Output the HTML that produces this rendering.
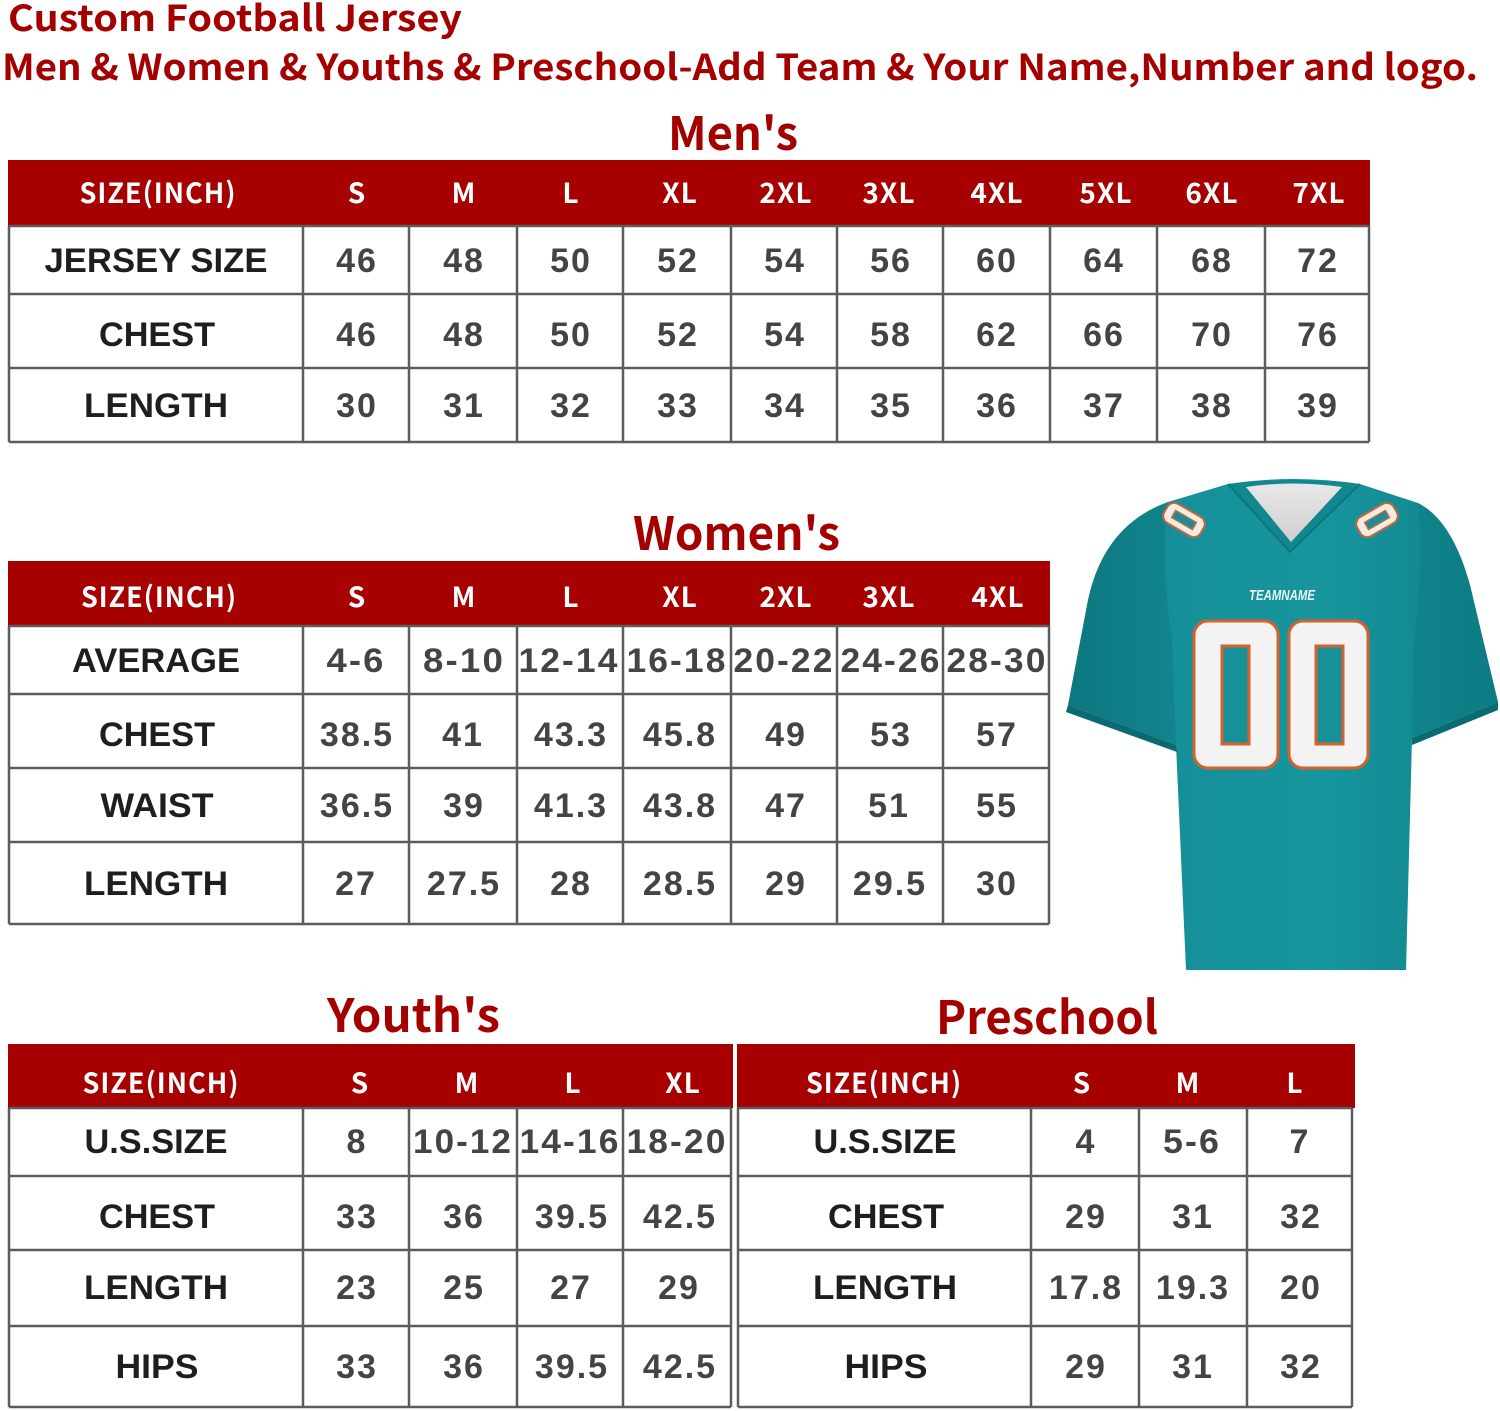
<!DOCTYPE html>
<html><head><meta charset="utf-8">
<style>
html,body{margin:0;padding:0;background:#fff;}
svg{display:block;}
.t{font-family:"Noto Sans CJK SC","Liberation Sans",sans-serif;font-weight:700;fill:#a40000;}
.h{font-family:"Noto Sans CJK SC","Liberation Sans",sans-serif;font-weight:700;fill:#fff;font-size:28px;text-anchor:middle;letter-spacing:1px;}
.lab{font-family:"Liberation Sans",sans-serif;font-weight:700;fill:#1e1e1e;font-size:34px;text-anchor:middle;}
.n{font-family:"Liberation Sans",sans-serif;font-weight:700;fill:#444;font-size:34px;text-anchor:middle;letter-spacing:2px;}
.g{stroke:#5c5c5c;stroke-width:2.5;fill:none;}
</style></head>
<body>
<svg width="1500" height="1411" viewBox="0 0 1500 1411" xmlns="http://www.w3.org/2000/svg">
<defs>
<linearGradient id="teal" x1="0" y1="0" x2="1" y2="0">
<stop offset="0" stop-color="#0d7c84"/>
<stop offset="0.25" stop-color="#15909a"/>
<stop offset="0.6" stop-color="#17959d"/>
<stop offset="1" stop-color="#0f8189"/>
</linearGradient>
<linearGradient id="neck" x1="0" y1="0" x2="0" y2="1">
<stop offset="0" stop-color="#e8e8e8"/>
<stop offset="1" stop-color="#cfcfcf"/>
</linearGradient>
</defs>
<rect width="1500" height="1411" fill="#fff"/>

<!-- Top titles -->
<text class="t" x="8" y="31" font-size="36" textLength="454" lengthAdjust="spacingAndGlyphs">Custom  Football Jersey</text>
<text class="t" x="2" y="80" font-size="36" textLength="1476" lengthAdjust="spacingAndGlyphs">Men &amp; Women &amp; Youths &amp; Preschool-Add Team &amp; Your Name,Number and logo.</text>

<!-- MEN'S -->
<text class="t" x="668" y="150" font-size="46" textLength="130" lengthAdjust="spacingAndGlyphs">Men's</text>
<rect x="8" y="160" width="1362" height="66" fill="#a60000"/>
<text class="h" x="158" y="203" textLength="157" lengthAdjust="spacingAndGlyphs">SIZE(INCH)</text>
<text class="h" x="357" y="203">S</text>
<text class="h" x="464" y="203">M</text>
<text class="h" x="571" y="203">L</text>
<text class="h" x="680" y="203">XL</text>
<text class="h" x="786" y="203">2XL</text>
<text class="h" x="889" y="203">3XL</text>
<text class="h" x="997" y="203">4XL</text>
<text class="h" x="1106" y="203">5XL</text>
<text class="h" x="1212" y="203">6XL</text>
<text class="h" x="1319" y="203">7XL</text>
<path class="g" d="M9,226H1369M9,294H1369M9,368H1369M9,442H1369M9,226V442M303,226V442M409,226V442M517,226V442M623,226V442M731,226V442M837,226V442M943,226V442M1050,226V442M1157,226V442M1265,226V442M1369,226V442"/>
<text class="lab" x="156" y="272" textLength="223" lengthAdjust="spacingAndGlyphs">JERSEY SIZE</text>
<text class="lab" x="157" y="346" textLength="116" lengthAdjust="spacingAndGlyphs">CHEST</text>
<text class="lab" x="156" y="417" textLength="144" lengthAdjust="spacingAndGlyphs">LENGTH</text>
<g class="n">
<text x="357" y="272">46</text><text x="464" y="272">48</text><text x="571" y="272">50</text><text x="678" y="272">52</text><text x="785" y="272">54</text><text x="891" y="272">56</text><text x="997" y="272">60</text><text x="1104" y="272">64</text><text x="1212" y="272">68</text><text x="1318" y="272">72</text>
<text x="357" y="346">46</text><text x="464" y="346">48</text><text x="571" y="346">50</text><text x="678" y="346">52</text><text x="785" y="346">54</text><text x="891" y="346">58</text><text x="997" y="346">62</text><text x="1104" y="346">66</text><text x="1212" y="346">70</text><text x="1318" y="346">76</text>
<text x="357" y="417">30</text><text x="464" y="417">31</text><text x="571" y="417">32</text><text x="678" y="417">33</text><text x="785" y="417">34</text><text x="891" y="417">35</text><text x="997" y="417">36</text><text x="1104" y="417">37</text><text x="1212" y="417">38</text><text x="1318" y="417">39</text>
</g>

<!-- WOMEN'S -->
<text class="t" x="633" y="550" font-size="46" textLength="207" lengthAdjust="spacingAndGlyphs">Women's</text>
<rect x="8" y="561" width="1042" height="65" fill="#a60000"/>
<text class="h" x="159" y="607" textLength="156" lengthAdjust="spacingAndGlyphs">SIZE(INCH)</text>
<text class="h" x="357" y="607">S</text>
<text class="h" x="464" y="607">M</text>
<text class="h" x="571" y="607">L</text>
<text class="h" x="680" y="607">XL</text>
<text class="h" x="786" y="607">2XL</text>
<text class="h" x="889" y="607">3XL</text>
<text class="h" x="998" y="607">4XL</text>
<path class="g" d="M9,626H1049M9,694H1049M9,768H1049M9,842H1049M9,924H1049M9,626V924M303,626V924M409,626V924M517,626V924M623,626V924M731,626V924M837,626V924M943,626V924M1049,626V924"/>
<text class="lab" x="156" y="672" textLength="168" lengthAdjust="spacingAndGlyphs">AVERAGE</text>
<text class="lab" x="157" y="746" textLength="116" lengthAdjust="spacingAndGlyphs">CHEST</text>
<text class="lab" x="157" y="817" textLength="113" lengthAdjust="spacingAndGlyphs">WAIST</text>
<text class="lab" x="156" y="895" textLength="144" lengthAdjust="spacingAndGlyphs">LENGTH</text>
<g class="n">
<text x="356" y="672" textLength="59" lengthAdjust="spacingAndGlyphs">4-6</text>
<text x="464" y="672" textLength="82" lengthAdjust="spacingAndGlyphs">8-10</text>
<text x="569" y="672" textLength="101" lengthAdjust="spacingAndGlyphs">12-14</text>
<text x="677" y="672" textLength="101" lengthAdjust="spacingAndGlyphs">16-18</text>
<text x="784" y="672" textLength="101" lengthAdjust="spacingAndGlyphs">20-22</text>
<text x="891" y="672" textLength="101" lengthAdjust="spacingAndGlyphs">24-26</text>
<text x="997" y="672" textLength="101" lengthAdjust="spacingAndGlyphs">28-30</text>
<text x="357" y="746">38.5</text><text x="463" y="746">41</text><text x="571" y="746">43.3</text><text x="680" y="746">45.8</text><text x="786" y="746">49</text><text x="891" y="746">53</text><text x="997" y="746">57</text>
<text x="357" y="817">36.5</text><text x="464" y="817">39</text><text x="571" y="817">41.3</text><text x="680" y="817">43.8</text><text x="786" y="817">47</text><text x="889" y="817">51</text><text x="997" y="817">55</text>
<text x="356" y="895">27</text><text x="464" y="895">27.5</text><text x="571" y="895">28</text><text x="680" y="895">28.5</text><text x="786" y="895">29</text><text x="890" y="895">29.5</text><text x="997" y="895">30</text>
</g>

<!-- JERSEY -->
<g>
<path d="M1228,484 Q1294,474 1360,484 L1418,503 Q1452,520 1470,585 L1498,702 L1412,738 L1406,970 L1186,970 L1176,745 L1068,705 L1088,600 Q1104,525 1168,502 Z" fill="url(#teal)"/>
<path d="M1168,502 Q1104,525 1088,600 L1068,705 L1176,745 L1172,640 Q1160,560 1168,502 Z" fill="#0b6f77" opacity="0.35"/>
<path d="M1418,503 Q1452,520 1470,585 L1498,702 L1412,738 L1414,640 Q1424,560 1418,503 Z" fill="#0b6f77" opacity="0.3"/>
<path d="M1068,705 L1176,745 L1177,752 L1066,712 Z" fill="#0a6a71"/>
<path d="M1498,702 L1412,738 L1412,745 L1498,710 Z" fill="#0a6a71"/>
<path d="M1228,484 L1290,552 L1360,484 Q1294,476 1228,484 Z" fill="#12878f"/>
<path d="M1246,487 Q1292,480 1342,487 L1291,542 Z" fill="url(#neck)"/>
<path d="M1228,484 L1290,552 L1360,484" stroke="#0c767d" stroke-width="2" fill="none"/>
<g transform="translate(1184,520) rotate(30)">
<rect x="-21" y="-11" width="42" height="22" rx="8" fill="#f4ece2" stroke="#c6653c" stroke-width="2"/>
<rect x="-12" y="-4" width="24" height="8" fill="#15909a" stroke="#c6653c" stroke-width="1.5"/>
</g>
<g transform="translate(1377,520) rotate(-30)">
<rect x="-21" y="-11" width="42" height="22" rx="8" fill="#f4ece2" stroke="#c6653c" stroke-width="2"/>
<rect x="-12" y="-4" width="24" height="8" fill="#15909a" stroke="#c6653c" stroke-width="1.5"/>
</g>
<text x="1282" y="600" font-family="Liberation Sans, sans-serif" font-weight="700" font-style="italic" font-size="15" fill="#e9f6f6" text-anchor="middle" textLength="66" lengthAdjust="spacingAndGlyphs">TEAMNAME</text>
<rect x="1194" y="621" width="84" height="147" rx="14" fill="#f3f3f3" stroke="#d5622b" stroke-width="3"/>
<rect x="1222" y="646" width="27" height="98" fill="#16919a" stroke="#d5622b" stroke-width="3"/>
<rect x="1289" y="621" width="79" height="147" rx="14" fill="#f3f3f3" stroke="#d5622b" stroke-width="3"/>
<rect x="1316" y="646" width="27" height="98" fill="#16919a" stroke="#d5622b" stroke-width="3"/>
</g>

<!-- YOUTH'S -->
<text class="t" x="327" y="1032" font-size="46" textLength="173" lengthAdjust="spacingAndGlyphs">Youth's</text>
<rect x="8" y="1044" width="725" height="64" fill="#a60000"/>
<text class="h" x="161" y="1093" textLength="157" lengthAdjust="spacingAndGlyphs">SIZE(INCH)</text>
<text class="h" x="360" y="1093">S</text>
<text class="h" x="467" y="1093">M</text>
<text class="h" x="573" y="1093">L</text>
<text class="h" x="683" y="1093">XL</text>
<path class="g" d="M9,1108H731M9,1176H731M9,1250H731M9,1326H731M9,1407H731M9,1108V1407M303,1108V1407M409,1108V1407M517,1108V1407M623,1108V1407M731,1108V1407"/>
<text class="lab" x="156" y="1153" textLength="143" lengthAdjust="spacingAndGlyphs">U.S.SIZE</text>
<text class="lab" x="157" y="1228" textLength="116" lengthAdjust="spacingAndGlyphs">CHEST</text>
<text class="lab" x="156" y="1299" textLength="144" lengthAdjust="spacingAndGlyphs">LENGTH</text>
<text class="lab" x="157" y="1378" textLength="83" lengthAdjust="spacingAndGlyphs">HIPS</text>
<g class="n">
<text x="357" y="1153">8</text>
<text x="463" y="1153" textLength="100" lengthAdjust="spacingAndGlyphs">10-12</text>
<text x="570" y="1153" textLength="101" lengthAdjust="spacingAndGlyphs">14-16</text>
<text x="677" y="1153" textLength="101" lengthAdjust="spacingAndGlyphs">18-20</text>
<text x="357" y="1228">33</text><text x="464" y="1228">36</text><text x="572" y="1228">39.5</text><text x="680" y="1228">42.5</text>
<text x="357" y="1299">23</text><text x="464" y="1299">25</text><text x="571" y="1299">27</text><text x="679" y="1299">29</text>
<text x="357" y="1378">33</text><text x="464" y="1378">36</text><text x="572" y="1378">39.5</text><text x="680" y="1378">42.5</text>
</g>

<!-- PRESCHOOL -->
<text class="t" x="936" y="1034" font-size="46" textLength="222" lengthAdjust="spacingAndGlyphs">Preschool</text>
<rect x="737" y="1044" width="618" height="64" fill="#a60000"/>
<text class="h" x="884" y="1093" textLength="156" lengthAdjust="spacingAndGlyphs">SIZE(INCH)</text>
<text class="h" x="1082" y="1093">S</text>
<text class="h" x="1188" y="1093">M</text>
<text class="h" x="1295" y="1093">L</text>
<path class="g" d="M738,1108H1352M738,1176H1352M738,1250H1352M738,1326H1352M738,1407H1352M738,1108V1407M1031,1108V1407M1139,1108V1407M1247,1108V1407M1352,1108V1407"/>
<text class="lab" x="885" y="1153" textLength="143" lengthAdjust="spacingAndGlyphs">U.S.SIZE</text>
<text class="lab" x="886" y="1228" textLength="116" lengthAdjust="spacingAndGlyphs">CHEST</text>
<text class="lab" x="885" y="1299" textLength="144" lengthAdjust="spacingAndGlyphs">LENGTH</text>
<text class="lab" x="886" y="1378" textLength="83" lengthAdjust="spacingAndGlyphs">HIPS</text>
<g class="n">
<text x="1086" y="1153">4</text>
<text x="1192" y="1153" textLength="58" lengthAdjust="spacingAndGlyphs">5-6</text>
<text x="1300" y="1153">7</text>
<text x="1086" y="1228">29</text><text x="1193" y="1228">31</text><text x="1301" y="1228">32</text>
<text x="1086" y="1299">17.8</text><text x="1193" y="1299">19.3</text><text x="1301" y="1299">20</text>
<text x="1086" y="1378">29</text><text x="1193" y="1378">31</text><text x="1301" y="1378">32</text>
</g>
</svg>
</body></html>
